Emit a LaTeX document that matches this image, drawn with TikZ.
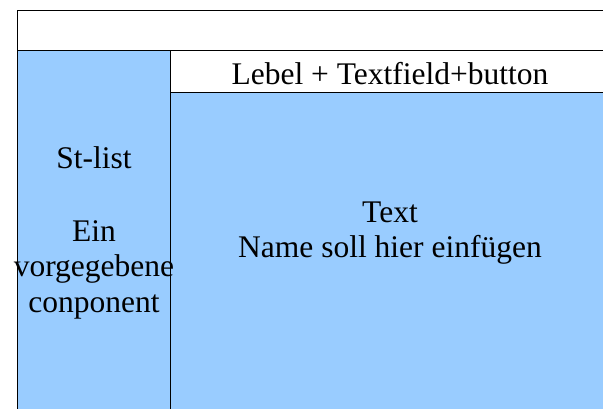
\documentclass[tikz,border=0pt]{standalone}
\usepackage{fontspec}
\setmainfont{Liberation Serif}
\definecolor{panelblue}{HTML}{99CCFF}
\begin{document}
\begin{tikzpicture}[x=1pt,y=-1pt,
  frame/.style={draw=black,line width=1pt},
  lbl/.style={font=\fontsize{31.5}{35.5}\selectfont,align=center,inner sep=0pt}]
\useasboundingbox (0,0) rectangle (603,408);
\fill[white] (0,0) rectangle (603,408);
% top band
\draw[frame] (17.5,50) -- (17.5,10.5) -- (603,10.5);
\draw[frame] (17.5,50) -- (603,50);
% left panel
\filldraw[frame,fill=panelblue] (17.5,50) rectangle (170,409);
% label band
\draw[frame] (170,50) rectangle (604,92);
% main panel
\filldraw[frame,fill=panelblue] (170,92) rectangle (604,409);
\node[lbl] (band) at (390,74) {Lebel + Textfield+button};
\node[lbl] (main) at (390,233) {Text\\Name soll hier einfügen};
\node[lbl] (left) at (94,233) {St-list\\[37pt]Ein\\vorgegebene\\conponent};
\end{tikzpicture}
\end{document}
